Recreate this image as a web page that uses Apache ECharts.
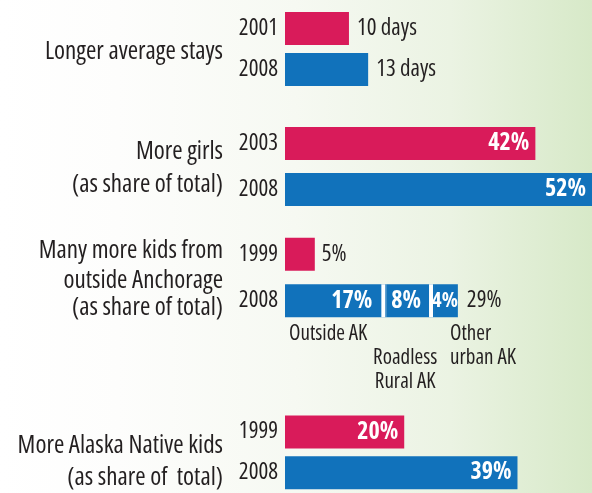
<!DOCTYPE html>
<html>
<head>
<meta charset="utf-8">
<script src="https://cdn.jsdelivr.net/npm/echarts@6/dist/echarts.min.js"></script>
<style>
  html, body { margin: 0; padding: 0; }
  #main { width: 592px; height: 493px; }
</style>
</head>
<body>
<div id="main"></div>
<script>
// values
var stayYears = ['2001', '2008'];
var stayDays = [10, 13];

var girlsYears = ['2003', '2008'];
var girlsShare = [42, 52];

var outsideYears = ['1999', '2008'];
var outsideShare = [5, 29];
var outsideParts2008 = [17, 8, 4];
var outsidePartNames = ['Outside AK', 'Roadless\nRural AK', 'Other\nurban AK'];

var nativeYears = ['1999', '2008'];
var nativeShare = [20, 39];

var groupTitles = [
    ['Longer average stays'],
    ['More girls', '(as share of total)'],
    ['Many more kids from', 'outside Anchorage', '(as share of total)'],
    ['More Alaska Native kids', '(as share of  total)']
];

var PINK = '#d91b5a';
var BLUE = '#1172bb';
var INK = '#231f20';
var FONT = '"Open Sans", "Roboto Condensed", sans-serif';
// canvas font shorthand accepts a stretch keyword, put it in fontStyle
var NARROW = 'condensed';

var chart = echarts.init(document.getElementById('main'));

function yAxisFor(idx, years) {
    return {
        type: 'category', gridIndex: idx, data: years, inverse: true,
        axisLine: { show: false }, axisTick: { show: false }, splitLine: { show: false },
        axisLabel: {
            color: INK, fontSize: 23, fontFamily: FONT, fontStyle: NARROW,
            margin: 7, padding: [4, 0, 0, 0]
        }
    };
}

function xAxisFor(idx, max) {
    return { type: 'value', gridIndex: idx, min: 0, max: max, show: false };
}

var insideLabel = {
    show: true, color: '#fff', fontWeight: 'bold', fontSize: 24, fontFamily: FONT, fontStyle: NARROW,
    position: 'insideRight', distance: 6, formatter: '{c}%'
};
var outerLabel = {
    show: true, color: INK, fontWeight: 'normal', fontSize: 23, fontFamily: FONT, fontStyle: NARROW,
    position: 'right', distance: 8
};

// cumulative boundaries for the white separators in the 2008 stacked bar
var sepData = [];
var acc = 0;
for (var i = 0; i < outsideParts2008.length - 1; i++) {
    acc += outsideParts2008[i];
    sepData.push([acc, outsideYears[1]]);
}

var option = {
    backgroundColor: {
        type: 'linear', x: 0, y: 0, x2: 1, y2: 0,
        colorStops: [
            { offset: 0, color: '#ffffff' },
            { offset: 0.2, color: '#fdfdfc' },
            { offset: 0.5, color: '#f6f9f2' },
            { offset: 0.76, color: '#ebf3e3' },
            { offset: 1, color: '#d7e9c8' }
        ]
    },
    textStyle: { fontFamily: FONT },
    animation: false,
    grid: [
        { left: 285, right: 0, top: 8, height: 82 },
        { left: 285, right: 0, top: 120.5, height: 92 },
        { left: 285, right: 0, top: 231, height: 93 },
        { left: 285, right: 0, top: 411.5, height: 92 }
    ],
    xAxis: [xAxisFor(0, 48), xAxisFor(1, 51.5), xAxisFor(2, 51.5), xAxisFor(3, 51.5)],
    yAxis: [
        yAxisFor(0, stayYears), yAxisFor(1, girlsYears),
        yAxisFor(2, outsideYears), yAxisFor(3, nativeYears)
    ],
    series: [
        {
            type: 'bar', xAxisIndex: 0, yAxisIndex: 0, barWidth: 33,
            data: [
                { value: stayDays[0], itemStyle: { color: PINK } },
                { value: stayDays[1], itemStyle: { color: BLUE } }
            ],
            label: Object.assign({}, outerLabel, { formatter: '{c} days' })
        },
        {
            type: 'bar', xAxisIndex: 1, yAxisIndex: 1, barWidth: 33,
            data: [
                { value: girlsShare[0], itemStyle: { color: PINK } },
                { value: girlsShare[1], itemStyle: { color: BLUE } }
            ],
            label: insideLabel
        },
        {
            type: 'bar', xAxisIndex: 2, yAxisIndex: 2, barWidth: 33, stack: 'out',
            data: [
                { value: outsideShare[0], itemStyle: { color: PINK }, label: Object.assign({}, outerLabel, { formatter: '{c}%', distance: 7 }) },
                { value: outsideParts2008[0], itemStyle: { color: BLUE } }
            ],
            label: Object.assign({}, insideLabel, { distance: 14 })
        },
        {
            type: 'bar', xAxisIndex: 2, yAxisIndex: 2, barWidth: 33, stack: 'out',
            data: ['-', outsideParts2008[1]],
            itemStyle: { color: BLUE },
            label: Object.assign({}, insideLabel, { distance: 13 })
        },
        {
            type: 'bar', xAxisIndex: 2, yAxisIndex: 2, barWidth: 33, stack: 'out',
            data: ['-', outsideParts2008[2]],
            itemStyle: { color: BLUE },
            label: Object.assign({}, insideLabel, { fontSize: 21, distance: 0 })
        },
        {
            // white separators between the stacked parts, nudged left of each boundary
            type: 'scatter', xAxisIndex: 2, yAxisIndex: 2, z: 2,
            symbol: 'rect', symbolSize: [4, 33], symbolOffset: [-3, 0],
            itemStyle: { color: '#ffffff', opacity: 1 },
            data: sepData, silent: true
        },
        {
            // total for 2008
            type: 'scatter', xAxisIndex: 2, yAxisIndex: 2, symbolSize: 0,
            itemStyle: { opacity: 1 },
            data: [[outsideShare[1], outsideYears[1]]],
            label: Object.assign({}, outerLabel, { distance: 9, formatter: function (p) { return p.value[0] + '%'; } })
        },
        {
            type: 'bar', xAxisIndex: 3, yAxisIndex: 3, barWidth: 33,
            data: [
                { value: nativeShare[0], itemStyle: { color: PINK } },
                { value: nativeShare[1], itemStyle: { color: BLUE } }
            ],
            label: insideLabel
        }
    ]
};

chart.setOption(option);

// group titles at the left and names under the stacked 2008 bar
var titleMids = [[52], [152, 185], [251, 281, 308], [446, 478]];
var graphics = [];
groupTitles.forEach(function (lines, g) {
    lines.forEach(function (line, k) {
        graphics.push({
            type: 'text', x: 223, y: titleMids[g][k],
            style: { text: line, fill: INK, font: 'condensed 25px ' + FONT, align: 'right', verticalAlign: 'middle' }
        });
    });
});

var base = chart.convertToPixel({ gridIndex: 2 }, [0, 1]);
var mid2 = chart.convertToPixel({ gridIndex: 2 }, [outsideParts2008[0] + outsideParts2008[1] / 2, 1]);
var end2 = chart.convertToPixel({ gridIndex: 2 }, [outsideParts2008[0] + outsideParts2008[1], 1]);
var partPos = [
    { x: base[0] + 4, y: base[1] + 33, align: 'left' },
    { x: mid2[0] - 5, y: base[1] + 69, align: 'center' },
    { x: end2[0] + 16, y: base[1] + 45, align: 'left' }
];
outsidePartNames.forEach(function (name, k) {
    graphics.push({
        type: 'text', x: partPos[k].x, y: partPos[k].y,
        style: { text: name, fill: INK, font: 'condensed 21px ' + FONT, align: partPos[k].align, verticalAlign: 'middle', lineHeight: 24 }
    });
});

chart.setOption({ graphic: graphics });
</script>
</body>
</html>
